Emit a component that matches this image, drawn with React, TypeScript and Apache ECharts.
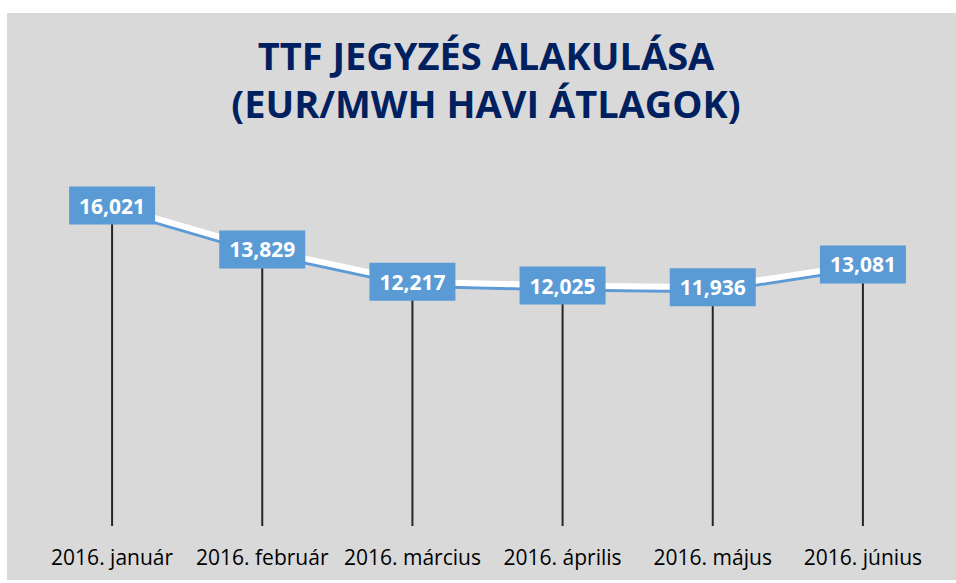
import React, { useEffect, useRef } from "react";
import * as echarts from "echarts";

const categories = [
  "2016. január",
  "2016. február",
  "2016. március",
  "2016. április",
  "2016. május",
  "2016. június",
];
const values = [16.021, 13.829, 12.217, 12.025, 11.936, 13.081];
const titleLines = ["TTF JEGYZÉS ALAKULÁSA", "(EUR/MWH HAVI ÁTLAGOK)"];

export default function App() {
  const ref = useRef<HTMLDivElement>(null);
  useEffect(() => {
    const chart = echarts.init(ref.current!, null, { renderer: "svg" });
    chart.setOption({
      animation: false,
      backgroundColor: "#ffffff",
      graphic: [
        {
          type: "rect",
          z: -10,
          shape: { x: 7, y: 13, width: 949, height: 567 },
          style: { fill: "#d9d9d9" },
        },
      ],
      title: {
        text: titleLines.join("\n"),
        left: 486,
        textAlign: "center",
        top: 31,
        padding: 0,
        textStyle: {
          fontFamily: "Open Sans",
          fontWeight: "bold",
          fontSize: 38,
          color: "#002060",
          lineHeight: 48,
        },
      },
      grid: { left: 37, right: 18, top: 166, bottom: 57 },
      xAxis: {
        type: "category",
        data: categories,
        boundaryGap: true,
        axisLine: { show: false },
        axisTick: { show: false },
        axisLabel: {
          fontFamily: "Open Sans",
          fontSize: 21,
          color: "#000000",
          margin: 20,
          interval: 0,
        },
      },
      yAxis: {
        type: "value",
        min: 0,
        max: 18,
        show: false,
        splitLine: { show: false },
      },
      series: [
        {
          type: "bar",
          data: values,
          barWidth: 2,
          itemStyle: { color: "#262626" },
          silent: true,
          z: 1,
        },
        {
          type: "line",
          data: values,
          symbol: "circle",
          symbolSize: 1,
          showSymbol: true,
          itemStyle: { color: "rgba(0,0,0,0)" },
          z: 3,
          labelLayout: { hideOverlap: false },
          lineStyle: {
            color: "#ffffff",
            width: 6,
            shadowColor: "#5b9bd5",
            shadowBlur: 0,
            shadowOffsetY: 3,
          },
          label: {
            show: true,
            position: "inside",
            formatter: (p: any) => p.value.toFixed(3).replace(".", ","),
            backgroundColor: "#5b9bd5",
            color: "#ffffff",
            fontFamily: "Open Sans",
            fontWeight: "bold",
            fontSize: 21,
            lineHeight: 22,
            padding: [8, 10, 8, 10],
          },
        },
      ],
    });
    return () => chart.dispose();
  }, []);
  return (
    <div
      ref={ref}
      style={{ position: "absolute", left: 0, top: 0, width: 956, height: 583 }}
    />
  );
}
